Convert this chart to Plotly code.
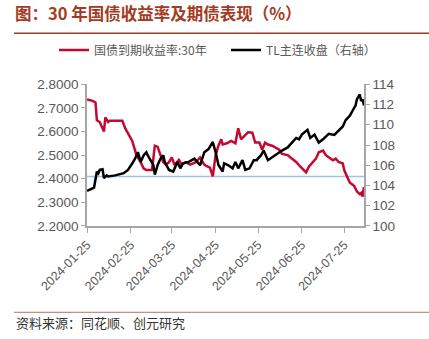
import plotly.graph_objects as go

# ---- data ----
yield_dates = ["2024-01-25","2024-01-29","2024-01-31","2024-02-01","2024-02-03","2024-02-05","2024-02-06",
"2024-02-07","2024-02-09","2024-02-10","2024-02-19","2024-02-21","2024-02-23","2024-02-26","2024-02-27",
"2024-02-29","2024-03-03","2024-03-05","2024-03-07","2024-03-11","2024-03-13","2024-03-15","2024-03-17",
"2024-03-19","2024-03-21","2024-03-23","2024-03-25","2024-03-27","2024-03-30","2024-04-01","2024-04-04",
"2024-04-07","2024-04-11","2024-04-14","2024-04-17","2024-04-18","2024-04-21","2024-04-23","2024-04-25",
"2024-04-27","2024-04-29","2024-04-30","2024-05-03","2024-05-06","2024-05-09","2024-05-11","2024-05-13",
"2024-05-16","2024-05-18","2024-05-21","2024-05-23","2024-05-26","2024-05-28","2024-05-30","2024-06-01",
"2024-06-04","2024-06-06","2024-06-09","2024-06-11","2024-06-15","2024-06-17","2024-06-21","2024-06-24",
"2024-06-28","2024-06-30","2024-07-03","2024-07-05","2024-07-07","2024-07-10","2024-07-12","2024-07-14",
"2024-07-17","2024-07-19","2024-07-21","2024-07-24","2024-07-25","2024-07-27","2024-07-29","2024-08-01",
"2024-08-03","2024-08-05","2024-08-06","2024-08-07","2024-08-08"]
yield_30y = [2.736,2.730,2.723,2.648,2.640,2.614,2.600,
2.660,2.640,2.646,2.646,2.614,2.594,2.560,2.540,
2.500,2.470,2.444,2.437,2.437,2.540,2.535,2.500,
2.470,2.460,2.470,2.490,2.458,2.480,2.460,2.470,
2.460,2.470,2.490,2.460,2.455,2.447,2.410,2.499,
2.540,2.567,2.545,2.550,2.560,2.550,2.614,2.567,
2.587,2.597,2.595,2.553,2.553,2.523,2.553,2.545,
2.540,2.533,2.523,2.505,2.500,2.490,2.471,2.451,
2.427,2.451,2.471,2.485,2.512,2.519,2.500,2.490,
2.478,2.485,2.471,2.465,2.437,2.410,2.383,2.370,
2.346,2.335,2.340,2.325,2.365]

tl_dates = ["2024-01-25","2024-01-28","2024-01-30","2024-02-01","2024-02-02","2024-02-03","2024-02-05",
"2024-02-06","2024-02-08","2024-02-09","2024-02-14","2024-02-20","2024-02-23","2024-02-26","2024-02-28",
"2024-03-01","2024-03-03","2024-03-05","2024-03-07","2024-03-08","2024-03-12","2024-03-13","2024-03-15",
"2024-03-17","2024-03-19","2024-03-20","2024-03-23","2024-03-26","2024-03-29","2024-03-31","2024-04-02",
"2024-04-06","2024-04-10","2024-04-12","2024-04-14","2024-04-17","2024-04-20","2024-04-23","2024-04-25",
"2024-04-27","2024-04-30","2024-05-01","2024-05-04","2024-05-07","2024-05-09","2024-05-11","2024-05-14",
"2024-05-16","2024-05-19","2024-05-22","2024-05-24","2024-05-27","2024-05-29","2024-06-01","2024-06-04",
"2024-06-08","2024-06-11","2024-06-15","2024-06-18","2024-06-21","2024-06-23","2024-06-25","2024-06-29",
"2024-07-01","2024-07-04","2024-07-07","2024-07-10","2024-07-12","2024-07-14","2024-07-18","2024-07-20",
"2024-07-24","2024-07-26","2024-07-29","2024-07-31","2024-08-02","2024-08-03","2024-08-05","2024-08-06",
"2024-08-07","2024-08-08"]
tl_close = [103.48,103.64,103.80,105.38,105.20,105.54,105.60,
104.74,105.00,104.90,105.00,105.22,105.54,106.17,106.65,
107.29,106.33,106.97,107.29,106.97,106.02,105.07,106.02,
106.65,106.97,106.33,105.54,105.38,106.33,105.70,106.20,
106.33,106.65,106.33,106.00,107.29,107.60,108.30,107.30,
106.02,105.38,106.20,106.00,105.70,106.33,105.70,106.50,
105.54,105.70,106.50,106.50,106.97,107.45,106.50,106.80,
107.13,107.45,107.76,108.24,108.70,108.56,109.03,109.50,
108.70,109.03,108.24,108.56,108.87,109.10,109.00,109.30,
109.83,110.46,110.90,111.41,111.90,112.52,113.00,112.35,
112.50,111.90]

ref_dates = ["2024-01-25", "2024-08-08"]
ref_level = [2.41, 2.41]

x_tick_vals = ["2024-01-25","2024-02-25","2024-03-25","2024-04-25","2024-05-25","2024-06-25","2024-07-25"]
x_tick_text = ["2024-01-25","2024-02-25","2024-03-25","2024-04-25","2024-05-25","2024-06-25","2024-07-25"]
y_left_ticks = [2.2, 2.3, 2.4, 2.5, 2.6, 2.7, 2.8]
y_right_ticks = [100, 102, 104, 106, 108, 110, 112, 114]

name_yield = "国债到期收益率:30年"
name_tl = "TL主连收盘（右轴）"
title_text = "图：30 年国债收益率及期债表现（%）"
source_text = "资料来源：同花顺、创元研究"

RED = "#C4082F"
AXIS = "#A6A6A6"
TXT = "#595959"
CJK = "Noto Sans CJK SC"

fig = go.Figure()
fig.add_trace(go.Scatter(x=ref_dates, y=ref_level, mode="lines", showlegend=False,
                         line=dict(color="#9DC3E6", width=1.5), hoverinfo="skip"))
fig.add_trace(go.Scatter(x=yield_dates, y=yield_30y, mode="lines", name=name_yield,
                         line=dict(color=RED, width=2.5), legend="legend"))
fig.add_trace(go.Scatter(x=tl_dates, y=tl_close, mode="lines", name=name_tl, yaxis="y2",
                         line=dict(color="#000000", width=2.5), legend="legend2"))

W, H = 429, 339
L, R, T, B = 87, 65, 79.5, 112.5
pw, ph = W - L - R, H - T - B

def px(x):
    return (x - L) / pw

def py(y):
    return (H - B - y) / ph

leg_common = dict(orientation="h", xref="container", yref="container", xanchor="left",
                  y=1 - 50 / H, yanchor="middle", itemwidth=30,
                  font=dict(family=CJK, size=12, color=TXT), bgcolor="rgba(0,0,0,0)")

fig.update_layout(
    width=W, height=H,
    margin=dict(l=L, r=R, t=T, b=B),
    plot_bgcolor="white", paper_bgcolor="white",
    title=dict(text=title_text, x=15 / W, xanchor="left", xref="container",
               y=1 - 14 / H, yanchor="middle", yref="container",
               font=dict(family=CJK, size=16.5, color="#A33A22", weight="bold")),
    legend=dict(x=54 / W, **leg_common),
    legend2=dict(x=226 / W, **leg_common),
    xaxis=dict(type="date", range=["2024-01-25", "2024-08-08"],
               tickvals=x_tick_vals, ticktext=x_tick_text, tickangle=-45,
               showline=True, linecolor=AXIS, linewidth=1.5, ticks="outside",
               tickcolor=AXIS, ticklen=5, showgrid=False, zeroline=False,
               tickfont=dict(family="Liberation Sans", size=12.5, color=TXT)),
    yaxis=dict(range=[2.2, 2.8], tickvals=y_left_ticks, tickformat=".4f",
               showline=True, linecolor=AXIS, linewidth=1.5, ticks="outside",
               tickcolor=AXIS, ticklen=4, showgrid=False, zeroline=False,
               tickfont=dict(family="Liberation Sans", size=13.5, color=TXT)),
    yaxis2=dict(range=[100, 114], tickvals=y_right_ticks, overlaying="y", side="right",
                showline=True, linecolor=AXIS, linewidth=1.5, ticks="outside",
                tickcolor=AXIS, ticklen=4, showgrid=False, zeroline=False,
                tickfont=dict(family="Liberation Sans", size=13.5, color=TXT)),
    shapes=[
        dict(type="line", xref="paper", yref="paper", x0=px(14), x1=px(429),
             y0=py(26.7), y1=py(26.7), line=dict(color="#A33A22", width=1.5)),
        dict(type="line", xref="paper", yref="paper", x0=px(14), x1=px(429),
             y0=py(316), y1=py(316), line=dict(color="#C49080", width=1.2)),
    ],
    annotations=[
        dict(text=source_text, xref="paper", yref="paper", x=px(14), y=py(327),
             xanchor="left", yanchor="middle", showarrow=False,
             font=dict(family=CJK, size=13, color="#333333")),
    ],
)

fig.write_html("out.html")
